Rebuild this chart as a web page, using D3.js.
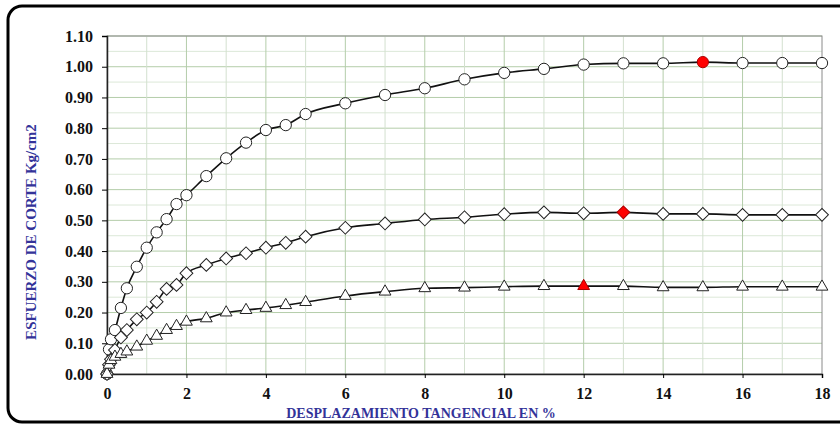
<!DOCTYPE html>
<html>
<head>
<meta charset="utf-8">
<script src="https://cdn.jsdelivr.net/npm/d3@7"></script>
<style>
  body { margin: 0; background: #fff; }
  svg { display: block; }
</style>
</head>
<body>
<svg id="chart" width="840" height="425"></svg>
<script>
// displacement (%) shared by all three specimens
const desplazamiento = [0, 0.05, 0.1, 0.2, 0.35, 0.5, 0.75, 1, 1.25, 1.5, 1.75, 2, 2.5, 3, 3.5, 4, 4.5, 5,
    6, 7, 8, 9, 10, 11, 12, 13, 14, 15, 16, 17, 18];

const esfuerzoCirculo = [0, 0.08, 0.113, 0.143, 0.215, 0.279, 0.349, 0.411, 0.461, 0.504, 0.553, 0.582, 0.644,
    0.702, 0.753, 0.794, 0.81, 0.846, 0.881, 0.908, 0.93, 0.959, 0.98, 0.993, 1.007, 1.011, 1.011, 1.015,
    1.012, 1.012, 1.012];
const esfuerzoRombo = [0, 0.03, 0.048, 0.078, 0.119, 0.143, 0.178, 0.2, 0.235, 0.277, 0.29, 0.328, 0.355,
    0.376, 0.393, 0.411, 0.427, 0.447, 0.476, 0.49, 0.503, 0.51, 0.52, 0.526, 0.523, 0.526, 0.521, 0.521,
    0.518, 0.518, 0.518];
const esfuerzoTriangulo = [0, 0.03, 0.045, 0.056, 0.065, 0.073, 0.089, 0.108, 0.124, 0.143, 0.156, 0.17, 0.181,
    0.2, 0.208, 0.215, 0.224, 0.234, 0.254, 0.268, 0.279, 0.281, 0.284, 0.286, 0.286, 0.286, 0.282, 0.282,
    0.284, 0.284, 0.284];

// displacement where each curve reaches its peak (drawn red)
const picoCirculo = 15;
const picoRombo = 13;
const picoTriangulo = 12;

const xTicks = [0, 2, 4, 6, 8, 10, 12, 14, 16, 18];
const yTicks = [0, 0.1, 0.2, 0.3, 0.4, 0.5, 0.6, 0.7, 0.8, 0.9, 1.0, 1.1];

const width = 840, height = 425;
const margin = {top: 36, right: 18, bottom: 51, left: 107};

const svg = d3.select("#chart");

// rounded frame
svg.append("rect")
    .attr("x", 8).attr("y", 6)
    .attr("width", 860).attr("height", 416)
    .attr("rx", 14)
    .attr("fill", "none")
    .attr("stroke", "#000")
    .attr("stroke-width", 3);

const x = d3.scaleLinear().domain([0, 18]).range([margin.left, width - margin.right]);
const y = d3.scaleLinear().domain([0, 1.1]).range([height - margin.bottom, margin.top]);

const grid = svg.append("g");
// minor horizontal every 0.05
grid.selectAll(".hmin")
    .data(d3.range(0.05, 1.1, 0.1))
    .enter().append("line")
    .attr("x1", x(0)).attr("x2", x(18))
    .attr("y1", d => y(d)).attr("y2", d => y(d))
    .attr("stroke", "#dce8d8").attr("stroke-width", 1);
grid.selectAll(".hmaj")
    .data(yTicks.slice(1))
    .enter().append("line")
    .attr("x1", x(0)).attr("x2", x(18))
    .attr("y1", d => y(d)).attr("y2", d => y(d))
    .attr("stroke", "#b4cdaa").attr("stroke-width", 1);
grid.selectAll(".v")
    .data(d3.range(1, 18))
    .enter().append("line")
    .attr("x1", d => x(d)).attr("x2", d => x(d))
    .attr("y1", y(0)).attr("y2", y(1.1))
    .attr("stroke", d => d % 2 === 0 ? "#b4cdaa" : "#d3e0cf").attr("stroke-width", 1);

// plot area outline
svg.append("rect")
    .attr("x", x(0)).attr("y", y(1.1))
    .attr("width", x(18) - x(0)).attr("height", y(0) - y(1.1))
    .attr("fill", "none").attr("stroke", "#8a8a8a").attr("stroke-width", 1);

const font = "'Liberation Serif', 'Times New Roman', serif";

const yAxis = svg.append("g")
    .attr("transform", `translate(${x(0)},0)`)
    .call(d3.axisLeft(y).tickValues(yTicks).tickFormat(d3.format(".2f")).tickSize(5).tickPadding(9));
yAxis.select(".domain").attr("stroke", "#222").attr("stroke-width", 1.5);
yAxis.selectAll("text").style("font-family", font).style("font-weight", "bold").style("font-size", "16px").attr("fill", "#111");

const xAxis = svg.append("g")
    .attr("transform", `translate(0,${y(0)})`)
    .call(d3.axisBottom(x).tickValues(xTicks).tickFormat(d3.format("d")).tickSize(4).tickPadding(10));
xAxis.select(".domain").attr("stroke", "#222").attr("stroke-width", 1.5);
xAxis.selectAll("text").style("font-family", font).style("font-weight", "bold").style("font-size", "16px").attr("fill", "#111");

svg.append("text")
    .attr("x", 421).attr("y", 418)
    .attr("text-anchor", "middle")
    .style("font-family", font).style("font-weight", "bold").style("font-size", "14px")
    .attr("fill", "#333399")
    .text("DESPLAZAMIENTO TANGENCIAL EN %");

svg.append("text")
    .attr("transform", "translate(36,232) rotate(-90)")
    .attr("text-anchor", "middle")
    .style("font-family", font).style("font-weight", "bold").style("font-size", "15px")
    .attr("fill", "#333399")
    .text("ESFUERZO DE CORTE Kg/cm2");

const line = d3.line()
    .x(d => x(d[0]))
    .y(d => y(d[1]))
    .curve(d3.curveMonotoneX);

const series = [
    {vals: esfuerzoCirculo, pico: picoCirculo, sym: d3.symbolCircle, size: 100, rot: 0},
    {vals: esfuerzoRombo, pico: picoRombo, sym: d3.symbolSquare, size: 82, rot: 45},
    {vals: esfuerzoTriangulo, pico: picoTriangulo, sym: d3.symbolTriangle, size: 60, rot: 0}
];

series.forEach(s => {
    const pts = desplazamiento.map((d, i) => [d, s.vals[i]]);
    svg.append("path")
        .datum(pts)
        .attr("d", line)
        .attr("fill", "none")
        .attr("stroke", "#111")
        .attr("stroke-width", 1.6);
    svg.append("g").selectAll("path")
        .data(pts)
        .enter().append("path")
        .attr("transform", d => `translate(${x(d[0])},${y(d[1])}) rotate(${s.rot})`)
        .attr("d", d3.symbol().type(s.sym).size(s.size))
        .attr("fill", d => d[0] === s.pico ? "#ff0000" : "#fff")
        .attr("stroke", d => d[0] === s.pico ? "#a00" : "#222")
        .attr("stroke-width", 1);
});
</script>
</body>
</html>
